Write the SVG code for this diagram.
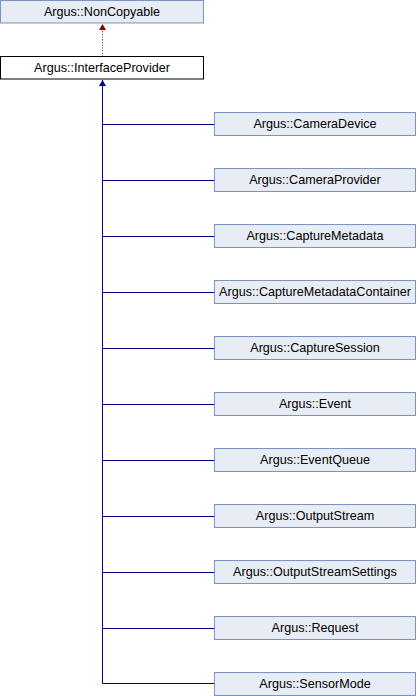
<svg xmlns="http://www.w3.org/2000/svg" width="418" height="696" viewBox="0 0 418 696">
<style>
.box{fill:#E8ECF4;stroke:#7C95C6;stroke-width:1}
.main{fill:#FFFFFF;stroke:#000000;stroke-width:1}
text{font-family:"Liberation Sans",Arial,sans-serif;font-size:12.6px;fill:#000;text-anchor:middle}
.inh{stroke:#000080;stroke-width:1;fill:none}
.dep{stroke:#8B0000;stroke-width:1;fill:none;stroke-dasharray:1,1.7}
</style>
<defs>
<marker id="ab" markerWidth="8" markerHeight="8" refX="6" refY="3.5" orient="auto" markerUnits="userSpaceOnUse"><path d="M0,0 L6,3.5 L0,7 Z" fill="#000080"/></marker>
<marker id="ar" markerWidth="8" markerHeight="8" refX="6" refY="3.5" orient="auto" markerUnits="userSpaceOnUse"><path d="M0,0 L6,3.5 L0,7 Z" fill="#8B0000"/></marker>
</defs>
<g id="connectors">
<path class="dep" d="M102.5,56.5 L102.5,24" marker-end="url(#ar)"/>
<path class="inh" d="M102.5,683.5 L102.5,80" marker-end="url(#ab)"/>
<path class="inh" d="M102.5,124.5 H214 M102.5,180.5 H214 M102.5,236.5 H214 M102.5,292.5 H214 M102.5,348.5 H214 M102.5,404.5 H214 M102.5,460.5 H214 M102.5,516.5 H214 M102.5,572.5 H214 M102.5,628.5 H214 M102.5,683.5 H214"/>
</g>
<g id="NonCopyable"><rect class="box" x="0.5" y="0.5" width="203" height="22.5"/><text x="102" y="15.5">Argus::NonCopyable</text></g>
<g id="InterfaceProvider"><rect class="main" x="0.5" y="56.5" width="203" height="22.5"/><text x="102" y="71.5">Argus::InterfaceProvider</text></g>
<g id="CameraDevice"><rect class="box" x="214.5" y="112.5" width="201" height="23"/><text x="315" y="128">Argus::CameraDevice</text></g>
<g id="CameraProvider"><rect class="box" x="214.5" y="168.5" width="201" height="23"/><text x="315" y="184">Argus::CameraProvider</text></g>
<g id="CaptureMetadata"><rect class="box" x="214.5" y="224.5" width="201" height="23"/><text x="315" y="240">Argus::CaptureMetadata</text></g>
<g id="CaptureMetadataContainer"><rect class="box" x="214.5" y="280.5" width="201" height="23"/><text x="315" y="296">Argus::CaptureMetadataContainer</text></g>
<g id="CaptureSession"><rect class="box" x="214.5" y="336.5" width="201" height="23"/><text x="315" y="352">Argus::CaptureSession</text></g>
<g id="Event"><rect class="box" x="214.5" y="392.5" width="201" height="23"/><text x="315" y="408">Argus::Event</text></g>
<g id="EventQueue"><rect class="box" x="214.5" y="448.5" width="201" height="23"/><text x="315" y="464">Argus::EventQueue</text></g>
<g id="OutputStream"><rect class="box" x="214.5" y="504.5" width="201" height="23"/><text x="315" y="520">Argus::OutputStream</text></g>
<g id="OutputStreamSettings"><rect class="box" x="214.5" y="560.5" width="201" height="23"/><text x="315" y="576">Argus::OutputStreamSettings</text></g>
<g id="Request"><rect class="box" x="214.5" y="616.5" width="201" height="23"/><text x="315" y="632">Argus::Request</text></g>
<g id="SensorMode"><rect class="box" x="214.5" y="672.5" width="201" height="23"/><text x="315" y="688">Argus::SensorMode</text></g>
</svg>
